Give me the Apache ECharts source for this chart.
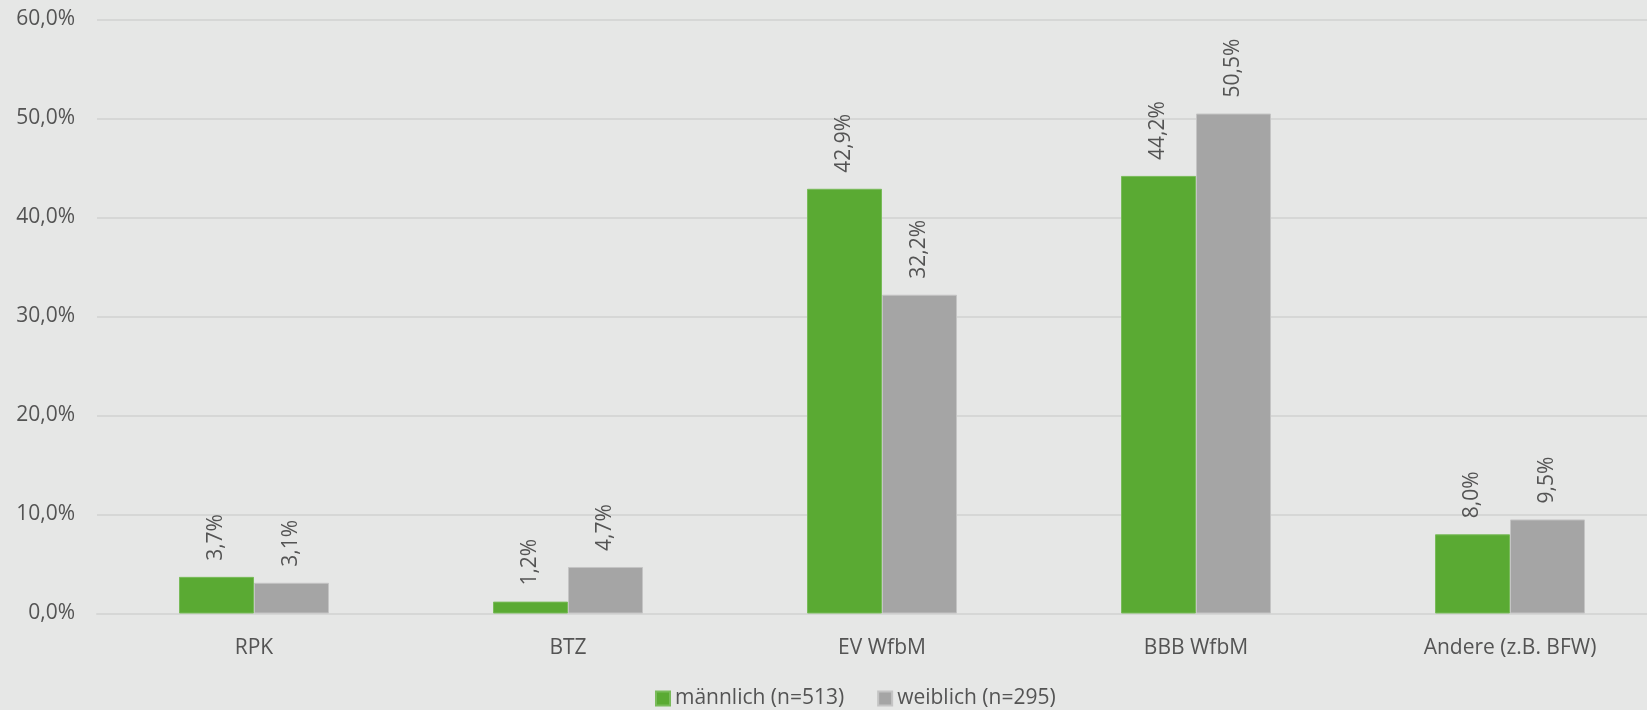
<!DOCTYPE html>
<html>
<head>
<meta charset="utf-8">
<script src="https://cdn.jsdelivr.net/npm/echarts@6/dist/echarts.min.js"></script>
<style>
  html, body { margin: 0; padding: 0; background: #e6e7e6; }
  #main { width: 1647px; height: 710px; }
</style>
</head>
<body>
<div id="main"></div>
<script>
// Daten
var categories = ['RPK', 'BTZ', 'EV WfbM', 'BBB WfbM', 'Andere (z.B. BFW)'];
var maennlich = [3.7, 1.2, 42.9, 44.2, 8.0];
var weiblich = [3.1, 4.7, 32.2, 50.5, 9.5];
var seriesNames = ['männlich (n=513)', 'weiblich (n=295)'];

var textColor = '#545454';
var fontFamily = '"Open Sans", sans-serif';

function pct(v) {
    return v.toFixed(1).replace('.', ',') + '%';
}

var myChart = echarts.init(document.getElementById('main'));

var barLabel = {
    show: true,
    position: 'top',
    rotate: 90,
    align: 'left',
    verticalAlign: 'middle',
    distance: 16,
    color: textColor,
    fontSize: 21,
    fontFamily: fontFamily,
    formatter: function (p) { return pct(p.value); }
};

var option = {
    backgroundColor: '#e6e7e6',
    animation: false,
    textStyle: { fontFamily: fontFamily },
    grid: {
        left: 97,
        width: 1570,
        top: 19.5,
        bottom: 96.5,
        containLabel: false,
        outerBoundsMode: 'none'
    },
    legend: {
        left: 650,
        top: 683,
        itemWidth: 14,
        itemHeight: 14,
        itemGap: 33,
        icon: 'rect',
        textStyle: { color: textColor, fontSize: 21, fontFamily: fontFamily },
        data: seriesNames
    },
    xAxis: {
        type: 'category',
        data: categories,
        axisLine: { lineStyle: { color: '#d6d7d6', width: 2 } },
        axisTick: { show: false },
        axisLabel: { color: textColor, fontSize: 21, margin: 24, fontFamily: fontFamily }
    },
    yAxis: {
        type: 'value',
        min: 0,
        max: 60,
        interval: 10,
        axisLine: { show: false },
        axisTick: { show: false },
        splitLine: { lineStyle: { color: '#d6d7d6', width: 2 } },
        axisLabel: {
            color: textColor,
            fontSize: 21,
            margin: 22,
            fontFamily: fontFamily,
            formatter: function (v) { return pct(v); }
        }
    },
    series: [
        {
            name: seriesNames[0],
            type: 'bar',
            data: maennlich,
            barWidth: 75,
            barGap: '0%',
            itemStyle: { color: '#5aaa33', borderColor: '#79bb5a', borderWidth: 1 },
            label: barLabel
        },
        {
            name: seriesNames[1],
            type: 'bar',
            data: weiblich,
            barWidth: 75,
            barGap: '0%',
            itemStyle: { color: '#a5a5a5', borderColor: '#c4c4c4', borderWidth: 1 },
            label: barLabel
        }
    ]
};

myChart.setOption(option);
</script>
</body>
</html>
